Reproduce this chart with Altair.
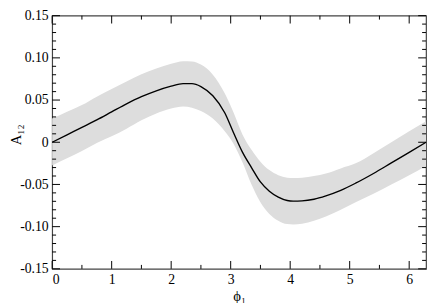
import altair as alt
import pandas as pd

# ---- data ----
phi = [0, 0.25, 0.5, 0.75, 1.0, 1.25, 1.5, 1.75, 2.0, 2.2, 2.35, 2.5, 2.7, 2.9, 3.05,
       3.2, 3.35, 3.5, 3.65, 3.8, 3.95, 4.05, 4.2, 4.4, 4.6, 4.85, 5.1, 5.4, 5.7, 6.0, 6.2832]
a12 = [0.0, 0.0088, 0.0175, 0.0265, 0.036, 0.0455, 0.054, 0.061, 0.0665, 0.0695, 0.0695,
       0.066, 0.055, 0.035, 0.011, -0.012, -0.030, -0.047, -0.058, -0.065, -0.069, -0.0698,
       -0.0695, -0.0675, -0.0635, -0.057, -0.0485, -0.037, -0.0245, -0.012, 0.0]
a12_hi = [0.028, 0.036, 0.044, 0.054, 0.063, 0.072, 0.0805, 0.0875, 0.0930, 0.0960, 0.0958,
          0.092, 0.080, 0.058, 0.035, 0.009, -0.009, -0.023, -0.033, -0.039, -0.042, -0.0425,
          -0.042, -0.040, -0.037, -0.031, -0.025, -0.013, 0.0, 0.013, 0.025]
a12_lo = [-0.0275, -0.019, -0.0105, -0.001, 0.007, 0.016, 0.026, 0.034, 0.0400, 0.0425, 0.041,
          0.037, 0.028, 0.013, -0.002, -0.024, -0.050, -0.071, -0.085, -0.093, -0.097, -0.0975,
          -0.0965, -0.093, -0.088, -0.080, -0.071, -0.061, -0.050, -0.039, -0.028]

x_major = [0, 1, 2, 3, 4, 5, 6]
x_minor = [0.5, 1.5, 2.5, 3.5, 4.5, 5.5]
y_major = [-0.15, -0.10, -0.05, 0.0, 0.05, 0.10, 0.15]
y_minor = [-0.14, -0.13, -0.12, -0.11, -0.09, -0.08, -0.07, -0.06, -0.04, -0.03, -0.02, -0.01,
           0.01, 0.02, 0.03, 0.04, 0.06, 0.07, 0.08, 0.09, 0.11, 0.12, 0.13, 0.14]

X_DOMAIN = [0, 6.2832]
Y_DOMAIN = [-0.15, 0.15]

W, H = 381, 258
MAJ, MIN = 8, 4
FONT = "Liberation Serif"

df = pd.DataFrame({"phi": phi, "a": a12, "hi": a12_hi, "lo": a12_lo})
dxM = pd.DataFrame({"v": x_major})
dxm = pd.DataFrame({"v": x_minor})
dyM = pd.DataFrame({"v": y_major})
dym = pd.DataFrame({"v": y_minor})

xs = alt.Scale(domain=X_DOMAIN, nice=False, zero=False)
ys = alt.Scale(domain=Y_DOMAIN, nice=False, zero=False)

xaxis = alt.Axis(values=x_major, format="d", ticks=False, domain=False, grid=False,
                 labelFont=FONT, labelFontSize=14, labelColor="black", labelPadding=4,
                 title="ϕ₁", titleFont=FONT, titleFontSize=15, titleFontWeight="normal",
                 titleColor="black", titlePadding=2)
yaxis = alt.Axis(values=y_major, ticks=False, domain=False, grid=False,
                 labelExpr="datum.value == 0 ? '0' : (datum.value < 0 ? '-' : '') + format(abs(datum.value), '.2f')",
                 labelFont=FONT, labelFontSize=14, labelColor="black", labelPadding=4,
                 title="A₁₂", titleFont=FONT, titleFontSize=15, titleFontWeight="normal",
                 titleColor="black", titleX=-37, titleY=121, titleBaseline="middle")

band = alt.Chart(df).mark_area(color="#dddddd", interpolate="monotone").encode(
    x=alt.X("phi:Q", scale=xs, axis=xaxis),
    y=alt.Y("lo:Q", scale=ys, axis=yaxis),
    y2="hi:Q",
)
line = alt.Chart(df).mark_line(color="black", strokeWidth=1.4, interpolate="monotone").encode(
    x=alt.X("phi:Q", scale=xs),
    y=alt.Y("a:Q", scale=ys),
)

def xticks(d, length):
    bottom = alt.Chart(d).mark_rule(color="black", strokeWidth=1).encode(
        x=alt.X("v:Q", scale=xs), y=alt.value(H), y2=alt.value(H - length))
    top = alt.Chart(d).mark_rule(color="black", strokeWidth=1).encode(
        x=alt.X("v:Q", scale=xs), y=alt.value(0), y2=alt.value(length))
    return [bottom, top]

def yticks(d, length):
    left = alt.Chart(d).mark_rule(color="black", strokeWidth=1).encode(
        y=alt.Y("v:Q", scale=ys), x=alt.value(0), x2=alt.value(length))
    right = alt.Chart(d).mark_rule(color="black", strokeWidth=1).encode(
        y=alt.Y("v:Q", scale=ys), x=alt.value(W), x2=alt.value(W - length))
    return [left, right]

layers = [band, line] + xticks(dxM, MAJ) + xticks(dxm, MIN) + yticks(dyM, MAJ) + yticks(dym, MIN)

chart = alt.layer(*layers).properties(
    width=W, height=H,
    padding={"left": 45, "top": 5, "right": 2, "bottom": 32},
    autosize=alt.AutoSizeParams(type="none"),
    background="white",
).configure_view(stroke="#444444", strokeWidth=1.2)

chart.save("out.html", embed_options={"renderer": "svg", "actions": False})
